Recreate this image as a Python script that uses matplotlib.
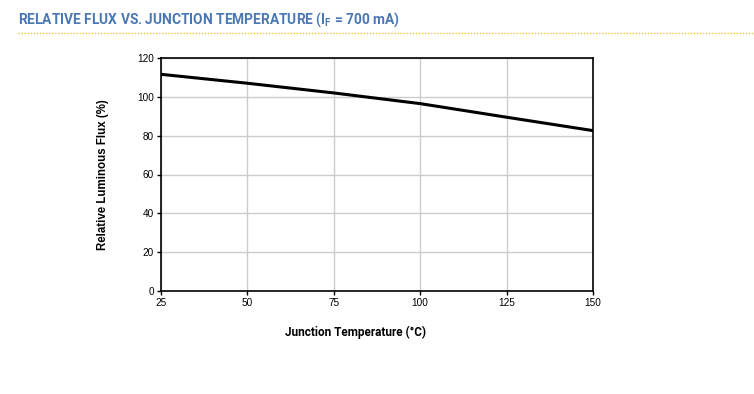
import matplotlib
matplotlib.use("Agg")
import matplotlib.pyplot as plt
from matplotlib.lines import Line2D

plt.rcParams['font.family'] = ['Roboto', 'DejaVu Sans']
plt.rcParams['mathtext.fontset'] = 'custom'
plt.rcParams['mathtext.rm'] = 'Roboto:bold'
plt.rcParams['mathtext.bf'] = 'Roboto:bold'

temps = [25, 50, 75, 100, 125, 150]
flux = [111.6, 107.0, 102.0, 96.5, 89.5, 82.6]
xticks = [25, 50, 75, 100, 125, 150]
yticks = [0, 20, 40, 60, 80, 100, 120]

fig = plt.figure(figsize=(7.54, 3.94), dpi=100)
ax = fig.add_axes([161/754, 1-291/394, (593-161)/754, (291-58)/394])
ax.plot(temps, flux, color='black', lw=2.2, solid_capstyle='butt')
ax.set_xlim(25, 150)
ax.set_ylim(0, 120)
ax.set_xticks(xticks)
ax.set_yticks(yticks)
ax.grid(True, color='#cccccc', lw=1)
ax.set_axisbelow(True)
for s in ax.spines.values():
    s.set_color('black')
    s.set_linewidth(1.2)
ax.tick_params(axis='both', labelsize=7.2, length=3, width=1, color='black', pad=2)
for lab in ax.get_xticklabels() + ax.get_yticklabels():
    lab.set_family(['Liberation Sans', 'DejaVu Sans'])
ax.set_xlabel('Junction Temperature (°C)', fontsize=8.5, fontweight='bold')
ax.xaxis.set_label_coords((355-161)/432, (291-332)/233)
ax.xaxis.label.set_va('center')
ax.set_ylabel('Relative Luminous Flux (%)', fontsize=8.3, fontweight='bold',
              family=['Liberation Sans', 'DejaVu Sans'])
ax.yaxis.set_label_coords((103-161)/432, 0.5)
ax.yaxis.label.set_va('center')

fig.text(18/754, 1-20/394, r'RELATIVE FLUX VS. JUNCTION TEMPERATURE (I$_\mathregular{F}$ = 700 mA)',
         fontsize=9.9, fontweight='bold', color='#4a78b5', va='center', ha='left')
fig.add_artist(Line2D([18/754, 1.0], [1-33/394, 1-33/394], transform=fig.transFigure,
                      color='#f0c53a', lw=1.0, ls=(0, (1, 1.2))))

fig.savefig('out.png', dpi=100)
